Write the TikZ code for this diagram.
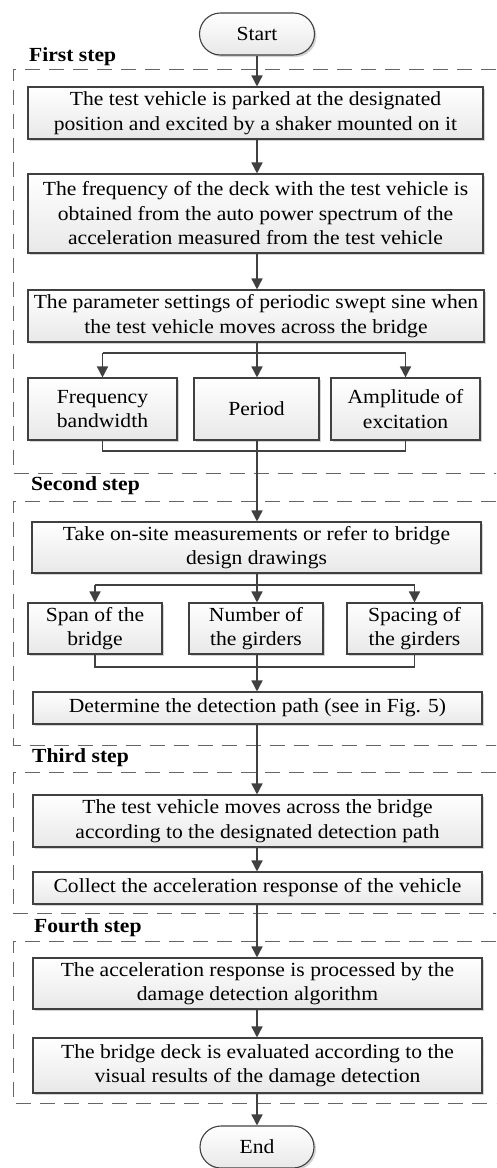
\documentclass[tikz,border=0pt]{standalone}
\usepackage{fontspec}
\setmainfont{Liberation Serif}[FakeStretch=1.08]
\usetikzlibrary{arrows.meta,shadows,shapes.misc}
\definecolor{ln}{HTML}{404040}
\tikzset{
  box/.style={draw=ln,line width=1.1pt,top color=white,bottom color=gray!18,
    align=center,inner sep=0pt,
    drop shadow={shadow xshift=2pt,shadow yshift=-2pt,opacity=0.35},
    font=\fontsize{20}{24.5}\selectfont},
  term/.style={box,rounded rectangle},
  conn/.style={draw=ln,line width=1.5pt,-{Triangle[length=11pt,width=11pt]}},
  plain/.style={draw=ln,line width=1.5pt},
  group/.style={draw=gray!80!black,line width=1pt,dash pattern=on 15pt off 9pt},
  steplabel/.style={anchor=west,inner sep=0pt,font=\bfseries\fontsize{20}{22}\selectfont}
}
\begin{document}
\begin{tikzpicture}[x=1pt,y=-1pt]
\useasboundingbox (0,0) rectangle (496,1168);
\clip (0,0) rectangle (496,1168);
% groups
\draw[group] (520,69) -- (13,69) -- (13,473) -- (520,473);
\draw[group] (520,501) -- (13,501) -- (13,745) -- (520,745);
\draw[group] (520,772) -- (13,772) -- (13,913) -- (520,913);
\draw[group] (520,941) -- (13,941) -- (13,1103) -- (520,1103);
\node[steplabel] (l1) at (29,57) {First step};
\node[steplabel] (l2) at (31,486) {Second step};
\node[steplabel] (l3) at (32,758) {Third step};
\node[steplabel] (l4) at (34,928) {Fourth step};
% nodes
\node[term,minimum width=115pt,minimum height=42pt] (start) at (257,34) {Start};
\node[box,minimum width=455pt,minimum height=52pt] (b1) at (255.5,113) {The test vehicle is parked at the designated\\position and excited by a shaker mounted on it};
\node[box,minimum width=455pt,minimum height=79pt] (b2) at (255.5,213.5) {The frequency of the deck with the test vehicle is\\obtained from the auto power spectrum of the\\acceleration measured from the test vehicle};
\node[box,minimum width=456pt,minimum height=52pt] (b3) at (256,316) {The parameter settings of periodic swept sine when\\the test vehicle moves across the bridge};
\node[box,minimum width=149pt,minimum height=62pt] (f1) at (102.5,409) {Frequency\\bandwidth};
\node[box,minimum width=125pt,minimum height=62pt] (f2) at (256.5,409) {Period};
\node[box,minimum width=149pt,minimum height=62pt] (f3) at (405.5,409) {Amplitude of\\excitation};
\node[box,minimum width=449pt,minimum height=51pt] (b4) at (256.5,547.5) {Take on-site measurements or refer to bridge\\design drawings};
\node[box,minimum width=134pt,minimum height=51pt] (s1) at (95,628.5) {Span of the\\bridge};
\node[box,minimum width=134pt,minimum height=51pt] (s2) at (256,628.5) {Number of\\the girders};
\node[box,minimum width=135pt,minimum height=51pt] (s3) at (414.5,628.5) {Spacing of\\the girders};
\node[box,minimum width=449pt,minimum height=32pt] (b5) at (257.5,708) {Determine the detection path (see in Fig. 5)};
\node[box,minimum width=449pt,minimum height=52pt] (b6) at (257.5,821) {The test vehicle moves across the bridge\\according to the designated detection path};
\node[box,minimum width=449pt,minimum height=32pt] (b7) at (257.5,888) {Collect the acceleration response of the vehicle};
\node[box,minimum width=449pt,minimum height=51pt] (b8) at (257.5,983.5) {The acceleration response is processed by the\\damage detection algorithm};
\node[box,minimum width=449pt,minimum height=55pt] (b9) at (257.5,1065.5) {The bridge deck is evaluated according to the\\visual results of the damage detection};
\node[term,minimum width=114pt,minimum height=42pt] (end) at (257,1147) {End};
% connectors
\coordinate (c1) at (257,353);
\coordinate (c2) at (257,451);
\coordinate (c3) at (257,585);
\coordinate (c4) at (257,667);
\draw[conn] (start.south) -- (start.south |- b1.north);
\draw[conn] (b1.south -| start) -- (start |- b2.north);
\draw[conn] (b2.south -| start) -- (start |- b3.north);
\draw[plain] (start |- b3.south) -- (c1);
\draw[plain] (f1 |- c1) -- (f3 |- c1);
\draw[conn] (f1 |- c1) -- (f1.north);
\draw[conn] (c1) -- (start |- f2.north);
\draw[conn] (f3 |- c1) -- (f3.north);
\draw[plain] (f1.south) -- (f1 |- c2) -- (f3 |- c2) -- (f3.south);
\draw[conn] (start |- f2.south) -- (start |- b4.north);
\draw[plain] (start |- b4.south) -- (c3);
\draw[plain] (s1 |- c3) -- (s3 |- c3);
\draw[conn] (s1 |- c3) -- (s1.north);
\draw[conn] (c3) -- (start |- s2.north);
\draw[conn] (s3 |- c3) -- (s3.north);
\draw[plain] (s1.south) -- (s1 |- c4) -- (s3 |- c4) -- (s3.south);
\draw[plain] (start |- s2.south) -- (c4);
\draw[conn] (c4) -- (start |- b5.north);
\draw[conn] (start |- b5.south) -- (start |- b6.north);
\draw[conn] (start |- b6.south) -- (start |- b7.north);
\draw[conn] (start |- b7.south) -- (start |- b8.north);
\draw[conn] (start |- b8.south) -- (start |- b9.north);
\draw[conn] (start |- b9.south) -- (end.north);
\end{tikzpicture}
\end{document}
